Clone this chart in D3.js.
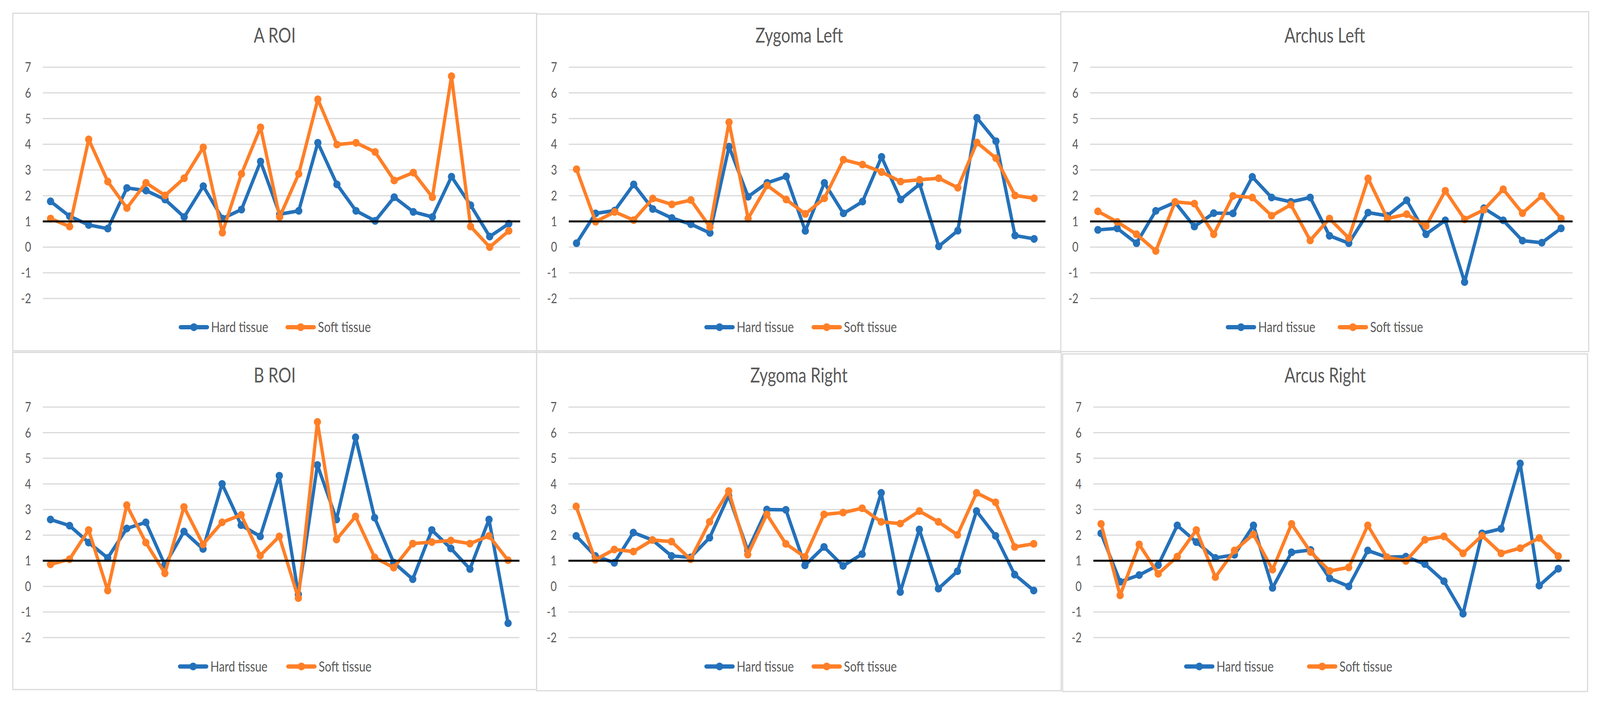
<!DOCTYPE html>
<html>
<head>
<meta charset="utf-8">
<script src="https://cdn.jsdelivr.net/npm/d3@7"></script>
<style>
html, body { margin: 0; padding: 0; background: #fff; overflow: hidden; }
#chart { display: block; width: 100vw; height: 100vh; }
text { font-family: Lato, "Open Sans", sans-serif; fill: #595959; }
</style>
</head>
<body>
<svg id="chart" viewBox="0 0 4374 1802" preserveAspectRatio="none"></svg>
<script>
// measurement index (25 cases, no x labels in the figure)
var cases = [1, 2, 3, 4, 5, 6, 7, 8, 9, 10, 11, 12, 13, 14, 15, 16, 17, 18, 19, 20, 21, 22, 23, 24, 25];
var yTicks = [-2, -1, 0, 1, 2, 3, 4, 5, 6, 7];
var seriesNames = ["Hard tissue", "Soft tissue"];
var titles = ["A ROI", "Zygoma Left", "Archus Left", "B ROI", "Zygoma Right", "Arcus Right"];
var refValue = 1;

var aRoiHard = [1.78, 1.20, 0.86, 0.72, 2.30, 2.20, 1.85, 1.17, 2.37, 1.11, 1.46, 3.33, 1.28, 1.41, 4.06, 2.44, 1.41, 1.02, 1.94, 1.37, 1.17, 2.74, 1.63, 0.41, 0.91];
var aRoiSoft = [1.11, 0.80, 4.19, 2.55, 1.52, 2.50, 2.01, 2.68, 3.88, 0.56, 2.85, 4.66, 1.17, 2.85, 5.75, 3.99, 4.06, 3.70, 2.59, 2.90, 1.94, 6.65, 0.80, 0.00, 0.63];

var zygLeftHard = [0.15, 1.31, 1.42, 2.44, 1.48, 1.13, 0.89, 0.55, 3.91, 1.96, 2.50, 2.75, 0.63, 2.50, 1.31, 1.77, 3.51, 1.85, 2.45, 0.03, 0.64, 5.03, 4.12, 0.45, 0.32];
var zygLeftSoft = [3.03, 0.99, 1.37, 1.05, 1.89, 1.66, 1.83, 0.78, 4.86, 1.11, 2.40, 1.85, 1.29, 1.90, 3.40, 3.21, 2.92, 2.55, 2.62, 2.68, 2.31, 4.07, 3.46, 2.01, 1.90];

var archLeftHard = [0.67, 0.73, 0.15, 1.41, 1.74, 0.80, 1.32, 1.31, 2.73, 1.93, 1.76, 1.93, 0.44, 0.15, 1.34, 1.22, 1.82, 0.50, 1.04, -1.36, 1.51, 1.04, 0.25, 0.17, 0.73];
var archLeftSoft = [1.39, 0.98, 0.50, -0.15, 1.76, 1.69, 0.50, 1.99, 1.93, 1.22, 1.65, 0.26, 1.11, 0.35, 2.67, 1.11, 1.28, 0.82, 2.19, 1.08, 1.45, 2.25, 1.32, 1.99, 1.11];

var bRoiHard = [2.61, 2.37, 1.71, 1.11, 2.26, 2.50, 0.84, 2.14, 1.46, 4.00, 2.39, 1.95, 4.32, -0.31, 4.74, 2.61, 5.82, 2.68, 0.93, 0.28, 2.20, 1.48, 0.68, 2.61, -1.44];
var bRoiSoft = [0.86, 1.06, 2.20, -0.16, 3.17, 1.71, 0.51, 3.10, 1.64, 2.50, 2.79, 1.20, 1.95, -0.46, 6.42, 1.83, 2.73, 1.13, 0.73, 1.67, 1.73, 1.79, 1.67, 1.97, 1.02];

var zygRightHard = [1.97, 1.19, 0.92, 2.10, 1.81, 1.19, 1.13, 1.90, 3.54, 1.41, 3.00, 2.99, 0.82, 1.54, 0.80, 1.26, 3.65, -0.22, 2.22, -0.09, 0.59, 2.94, 1.97, 0.46, -0.16];
var zygRightSoft = [3.12, 1.04, 1.44, 1.36, 1.81, 1.75, 1.06, 2.52, 3.72, 1.24, 2.81, 1.66, 1.15, 2.81, 2.88, 3.05, 2.52, 2.45, 2.94, 2.52, 2.01, 3.65, 3.28, 1.54, 1.66];

var arcRightHard = [2.07, 0.18, 0.44, 0.83, 2.38, 1.73, 1.11, 1.23, 2.38, -0.06, 1.33, 1.42, 0.31, 0.00, 1.40, 1.14, 1.16, 0.87, 0.20, -1.07, 2.07, 2.25, 4.80, 0.03, 0.69];
var arcRightSoft = [2.44, -0.35, 1.64, 0.49, 1.16, 2.20, 0.36, 1.40, 2.03, 0.65, 2.44, 1.34, 0.60, 0.74, 2.38, 1.14, 0.99, 1.82, 1.95, 1.29, 1.98, 1.29, 1.49, 1.89, 1.18];

var hardSeries = [aRoiHard, zygLeftHard, archLeftHard, bRoiHard, zygRightHard, arcRightHard];
var softSeries = [aRoiSoft, zygLeftSoft, archLeftSoft, bRoiSoft, zygRightSoft, arcRightSoft];

var colors = ["#2471BA", "#FF7F27"];
var squeeze = 0.85;   // the figure's text is horizontally narrow

// panel frames and plot extents
var layout = [
    {x: 35,   y: 34,  w: 1432, h: 864, left: 117,  right: 1422, top: 172,  bottom: 764,  legend: [-262, 30]},
    {x: 1467, y: 36,  w: 1436, h: 862, left: 1555, right: 2858, top: 172,  bottom: 764,  legend: [-259, 34]},
    {x: 2900, y: 30,  w: 1443, h: 870, left: 2980, right: 4299, top: 172,  bottom: 764,  legend: [-270, 36]},
    {x: 35,   y: 902, w: 1432, h: 863, left: 117,  right: 1420, top: 1042, bottom: 1632, legend: [-264, 32]},
    {x: 1467, y: 902, w: 1434, h: 866, left: 1554, right: 2857, top: 1042, bottom: 1632, legend: [-258, 35]},
    {x: 2905, y: 906, w: 1435, h: 864, left: 2989, right: 4291, top: 1042, bottom: 1632, legend: [-385, -49]}
];
var pointShift = -5;   // points sit slightly left of the band centres

var svg = d3.select("#chart");
svg.append("rect").attr("width", 4374).attr("height", 1802).attr("fill", "#fff");

function squeezedText(g, str, x, y, size, anchor) {
    return g.append("text")
        .attr("transform", "translate(" + x + "," + y + ") scale(" + squeeze + ",1)")
        .attr("font-size", size)
        .attr("text-anchor", anchor || "start")
        .text(str);
}

layout.forEach(function (p, i) {
    var g = svg.append("g");

    g.append("rect")
        .attr("x", p.x).attr("y", p.y)
        .attr("width", p.w).attr("height", p.h)
        .attr("fill", "#fff")
        .attr("stroke", "#d9d9d9")
        .attr("stroke-width", 3);

    var x = d3.scalePoint().domain(cases)
        .range([p.left + pointShift, p.right + pointShift]).padding(0.5);
    var y = d3.scaleLinear().domain([-2, 7]).range([p.bottom, p.top]);

    // gridlines
    g.selectAll(".grid")
        .data(yTicks)
        .enter()
        .append("line")
        .attr("x1", p.left).attr("x2", p.right)
        .attr("y1", function (d) { return y(d); })
        .attr("y2", function (d) { return y(d); })
        .attr("stroke", "#d9d9d9")
        .attr("stroke-width", 3);

    // y tick labels
    yTicks.forEach(function (t) {
        squeezedText(g, t, p.left - 32, y(t) + 12, 34, "end");
    });

    var cx = p.x + p.w / 2;
    squeezedText(g, titles[i], cx, p.top - 63, 52, "middle");

    var line = d3.line()
        .x(function (d, k) { return x(cases[k]); })
        .y(function (d) { return y(d); });

    [hardSeries[i], softSeries[i]].forEach(function (vals, s) {
        g.append("path")
            .datum(vals)
            .attr("d", line)
            .attr("fill", "none")
            .attr("stroke", colors[s])
            .attr("stroke-width", 9)
            .attr("stroke-linejoin", "round")
            .attr("stroke-linecap", "round");

        g.selectAll(".m" + s)
            .data(vals)
            .enter()
            .append("circle")
            .attr("cx", function (d, k) { return x(cases[k]); })
            .attr("cy", function (d) { return y(d); })
            .attr("r", 10)
            .attr("fill", colors[s]);
    });

    // reference line at 1
    g.append("line")
        .attr("x1", p.left).attr("x2", p.right)
        .attr("y1", y(refValue)).attr("y2", y(refValue))
        .attr("stroke", "#000")
        .attr("stroke-width", 5);

    // legend
    var ly = y(0) + 205;
    seriesNames.forEach(function (name, s) {
        var lx = cx + p.legend[s];
        g.append("line")
            .attr("x1", lx + 5).attr("x2", lx + 77)
            .attr("y1", ly).attr("y2", ly)
            .attr("stroke", colors[s])
            .attr("stroke-width", 11)
            .attr("stroke-linecap", "round");
        g.append("circle")
            .attr("cx", lx + 41).attr("cy", ly)
            .attr("r", 10)
            .attr("fill", colors[s]);
        squeezedText(g, name, lx + 88, ly + 13, 37);
    });
});
</script>
</body>
</html>
